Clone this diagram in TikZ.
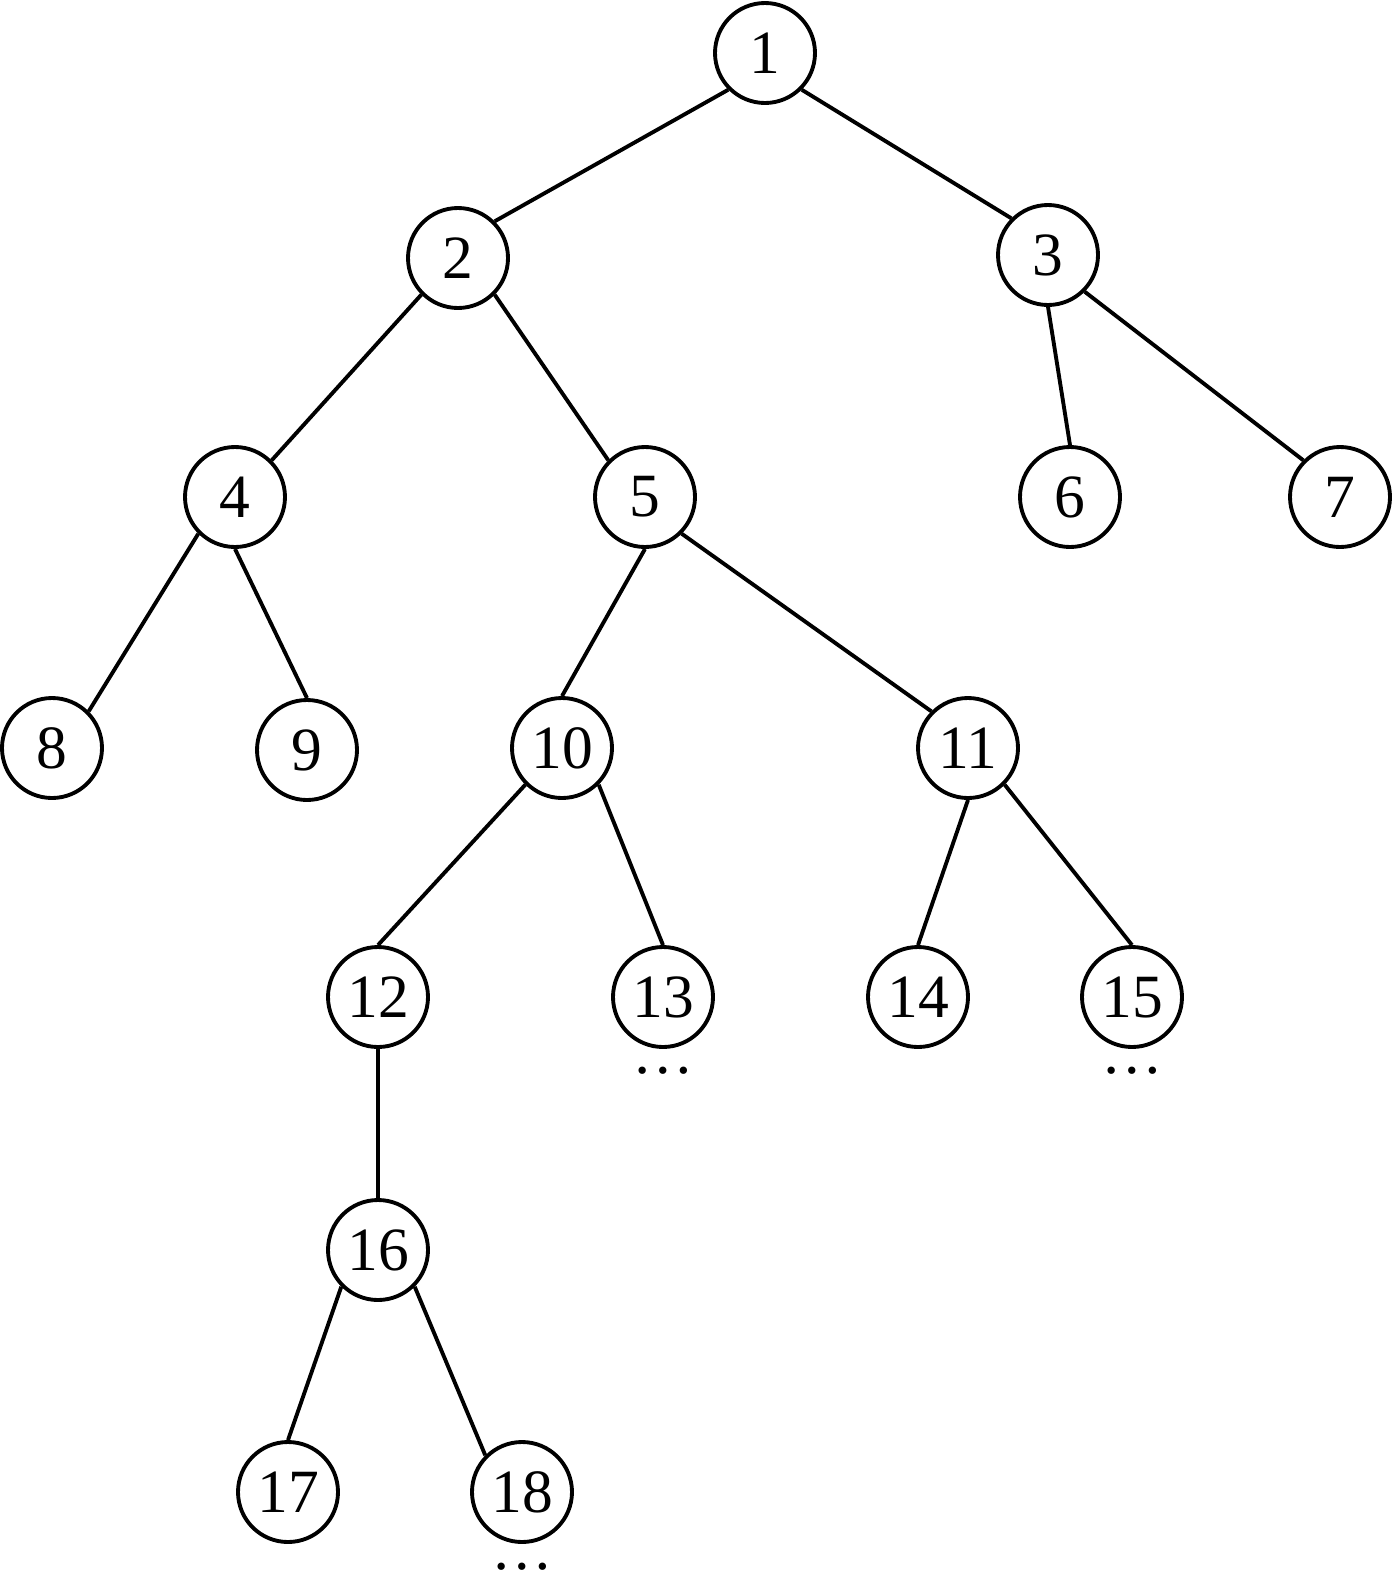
\documentclass[tikz,border=0pt]{standalone}
\usepackage{fontspec}
\setmainfont{Liberation Serif}
\begin{document}
\begin{tikzpicture}[every node/.style={circle, draw, line width=2.2pt, minimum size=2cm, inner sep=0pt, font=\fontsize{35}{40}\selectfont},
  more/.style={draw=none, circle=false, minimum size=0pt, inner sep=0pt}]
  \useasboundingbox (0, 0) rectangle (27.9, -31.4);
  \node (n1) at (15.3, -1.06) {1};
  \node (n2) at (9.16, -5.16) {2};
  \node (n3) at (20.96, -5.1) {3};
  \node (n4) at (4.7, -9.94) {4};
  \node (n5) at (12.9, -9.94) {5};
  \node (n6) at (21.4, -9.94) {6};
  \node (n7) at (26.8, -9.94) {7};
  \node (n8) at (1.04, -14.96) {8};
  \node (n9) at (6.14, -15.0) {9};
  \node (n10) at (11.24, -14.96) {10};
  \node (n11) at (19.36, -14.96) {11};
  \node (n12) at (7.56, -19.94) {12};
  \node (n13) at (13.26, -19.94) {13};
  \node (n14) at (18.36, -19.94) {14};
  \node (n15) at (22.64, -19.94) {15};
  \node (n16) at (7.56, -25.0) {16};
  \node (n17) at (5.76, -29.84) {17};
  \node (n18) at (10.44, -29.84) {18};
  \node[more] (m13) at (13.26, -21.42) {…};
  \node[more] (m15) at (22.64, -21.42) {…};
  \node[more] (m18) at (10.44, -31.34) {…};

  \draw[line width=2.2pt] (n1.south west) -- (n2.north east);
  \draw[line width=2.2pt] (n1.south east) -- (n3.north west);
  \draw[line width=2.2pt] (n2.south west) -- (n4.north east);
  \draw[line width=2.2pt] (n2.south east) -- (n5.north west);
  \draw[line width=2.2pt] (n3.south) -- (n6.north);
  \draw[line width=2.2pt] (n3.south east) -- (n7.north west);
  \draw[line width=2.2pt] (n4.south west) -- (n8.north east);
  \draw[line width=2.2pt] (n4.south) -- (n9.north);
  \draw[line width=2.2pt] (n5.south) -- (n10.north);
  \draw[line width=2.2pt] (n5.south east) -- (n11.north west);
  \draw[line width=2.2pt] (n10.south west) -- (n12.north);
  \draw[line width=2.2pt] (n10.south east) -- (n13.north);
  \draw[line width=2.2pt] (n11.south) -- (n14.north);
  \draw[line width=2.2pt] (n11.south east) -- (n15.north);
  \draw[line width=2.2pt] (n12.south) -- (n16.north);
  \draw[line width=2.2pt] (n16.south west) -- (n17.north);
  \draw[line width=2.2pt] (n16.south east) -- (n18.north west);
\end{tikzpicture}
\end{document}
